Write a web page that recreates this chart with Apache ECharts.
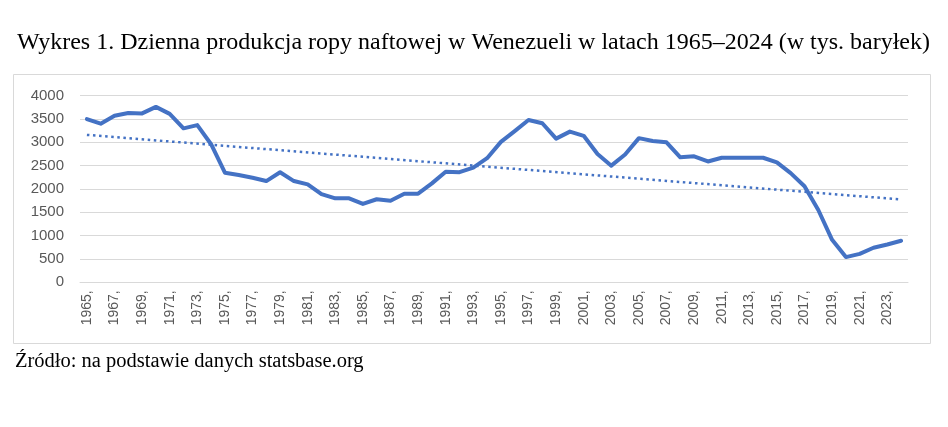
<!DOCTYPE html>
<html>
<head>
<meta charset="utf-8">
<script src="https://cdn.jsdelivr.net/npm/echarts@6/dist/echarts.min.js"></script>
<style>
  html, body { margin: 0; padding: 0; background: #fff; }
  #chart { width: 948px; height: 427px; }
</style>
</head>
<body>
<div id="chart"></div>
<script>
// lata 1965-2024
const years = [
  '1965','1966','1967','1968','1969','1970','1971','1972','1973','1974',
  '1975','1976','1977','1978','1979','1980','1981','1982','1983','1984',
  '1985','1986','1987','1988','1989','1990','1991','1992','1993','1994',
  '1995','1996','1997','1998','1999','2000','2001','2002','2003','2004',
  '2005','2006','2007','2008','2009','2010','2011','2012','2013','2014',
  '2015','2016','2017','2018','2019','2020','2021','2022','2023','2024'
];

// produkcja dzienna, tys. baryłek
const production = [
  3500, 3400, 3570, 3630, 3620, 3760, 3610, 3300, 3370, 2960,
  2350, 2300, 2240, 2170, 2360, 2170, 2100, 1890, 1800, 1800,
  1680, 1780, 1750, 1900, 1900, 2120, 2370, 2360, 2460, 2660,
  3010, 3240, 3480, 3410, 3080, 3230, 3140, 2750, 2500, 2740,
  3090, 3030, 3000, 2680, 2700, 2590, 2670, 2670, 2670, 2670,
  2570, 2340, 2060, 1550, 910, 540, 610, 740, 810, 890
];

// linia trendu (początek i koniec)
const trendYears = ['1965', '2024'];
const trendValues = [3160, 1775];

const yMin = 0, yMax = 4000, yStep = 500;

const trendData = years.map(y => {
  const i = trendYears.indexOf(y);
  return i >= 0 ? trendValues[i] : null;
});

const chart = echarts.init(document.getElementById('chart'));

chart.setOption({
  animation: false,
  backgroundColor: '#fff',
  grid: { left: 80, right: 40, top: 95.7, bottom: 144.7, containLabel: false },
  xAxis: {
    type: 'category',
    data: years,
    boundaryGap: true,
    axisLine: { show: true, lineStyle: { color: '#d9d9d9', width: 1 } },
    axisTick: { show: false },
    axisLabel: {
      interval: 1,
      rotate: 90,
      margin: 8,
      color: '#595959',
      fontFamily: 'Liberation Sans',
      fontSize: 14,
      formatter: v => v + ','
    }
  },
  yAxis: {
    type: 'value',
    min: yMin,
    max: yMax,
    interval: yStep,
    axisLine: { show: false },
    axisTick: { show: false },
    splitLine: { lineStyle: { color: '#d9d9d9', width: 1 } },
    axisLabel: {
      margin: 16,
      color: '#595959',
      fontFamily: 'Liberation Sans',
      fontSize: 15,
      formatter: v => String(v)
    }
  },
  series: [
    {
      type: 'line',
      data: production,
      symbol: 'none',
      lineStyle: { color: '#4472C4', width: 4, cap: 'round', join: 'round' },
      z: 3
    },
    {
      type: 'line',
      data: trendData,
      connectNulls: true,
      symbol: 'none',
      lineStyle: { color: '#4472C4', width: 2.5, type: [2.5, 3.6] },
      z: 2
    }
  ],
  graphic: [
    {
      type: 'rect',
      shape: { x: 13.5, y: 74.5, width: 917, height: 269 },
      style: { fill: 'none', stroke: '#d9d9d9', lineWidth: 1 },
      z: -1
    },
    {
      type: 'text',
      x: 17,
      y: 31,
      style: {
        text: 'Wykres 1. Dzienna produkcja ropy naftowej w Wenezueli w latach 1965–2024 (w tys. baryłek)',
        font: '24px "Liberation Serif"',
        fill: '#000',
        verticalAlign: 'top'
      }
    },
    {
      type: 'text',
      x: 15,
      y: 351,
      style: {
        text: 'Źródło: na podstawie danych statsbase.org',
        font: '20.5px "Liberation Serif"',
        fill: '#000',
        verticalAlign: 'top'
      }
    }
  ]
});
</script>
</body>
</html>
